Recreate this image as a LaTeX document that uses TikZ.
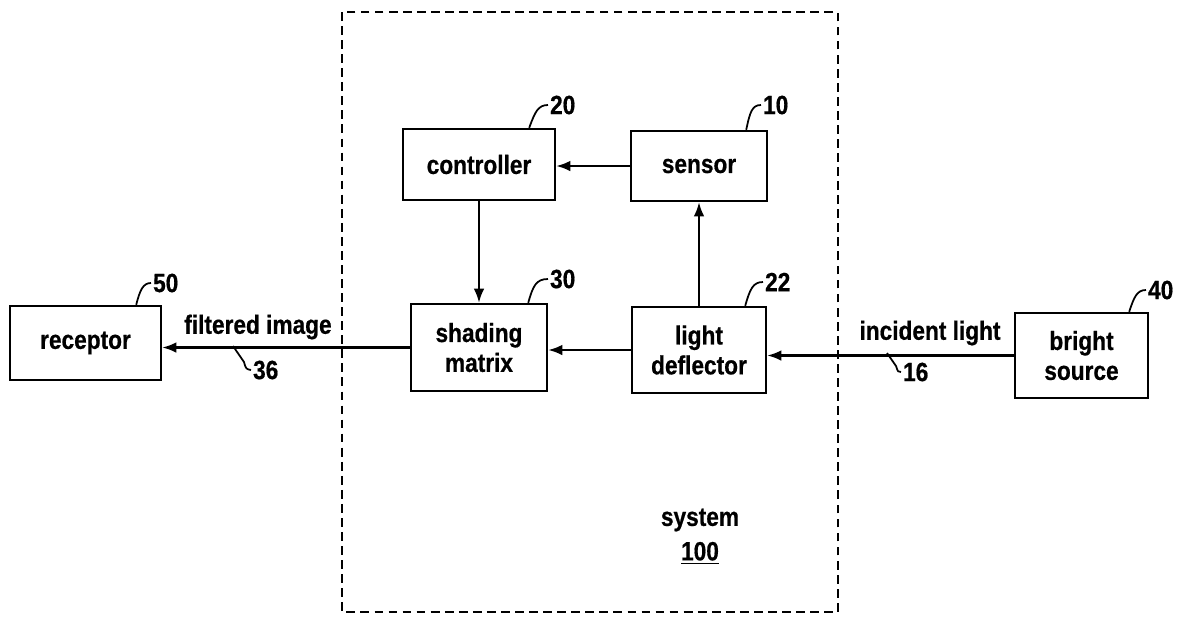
\documentclass[tikz,border=0pt]{standalone}
\usepackage{fontspec}
\setmainfont[FakeStretch=0.86, BoldFeatures={FakeBold=0.6}]{Liberation Sans}
\usetikzlibrary{arrows.meta}

\begin{document}
\begin{tikzpicture}[x=0.02cm, y=-0.02cm,
    font=\bfseries\fontsize{15}{17}\selectfont,
    block/.style={draw, line width=1.4pt, align=center, inner sep=0pt},
    flow/.style={-{Latex[length=8pt,width=6pt]}, line width=1.2pt},
    lead/.style={line width=1pt},
    refnum/.style={anchor=west, inner sep=1pt}]
% Parameters
\def\dashlw{1.5pt}

% Page frame
\useasboundingbox (0,0) rectangle (1183,620);

% System outline (dashed)
\draw[line width=\dashlw, dash pattern=on 5pt off 3pt] (342,12) rectangle (838,612);

% Blocks
\node[block, minimum width=3.02cm, minimum height=1.48cm] (receptor) at (85.5,343) {receptor};
\node[block, minimum width=3.04cm, minimum height=1.42cm] (controller) at (479,164.5) {controller};
\node[block, minimum width=2.72cm, minimum height=1.40cm] (sensor) at (699,166) {sensor};
\node[block, minimum width=2.72cm, minimum height=1.74cm] (shading) at (479,347.5) {shading\\matrix};
\node[block, minimum width=2.68cm, minimum height=1.72cm] (deflector) at (699,350) {light\\deflector};
\node[block, minimum width=2.66cm, minimum height=1.70cm] (bright) at (1081.5,355.5) {bright\\source};

% Connections
\draw[flow] (sensor.west) -- (sensor.west -| controller.east);
\draw[flow] (controller.south) -- (shading.north);
\draw[flow] (deflector.north) -- (sensor.south);
\draw[flow] (deflector.west) -- (deflector.west -| shading.east);
\draw[flow] (bright.west) -- (bright.west -| deflector.east);
\draw[flow] (shading.west) -- (shading.west -| receptor.east);

% Signal texts
\node (filtered) at (258,327) {filtered image};
\node (incident) at (930,333) {incident light};

% Reference numerals
\node[refnum] (n50) at (151,283) {50};
\node[refnum] (n20) at (548,105) {20};
\node[refnum] (n10) at (761,105) {10};
\node[refnum] (n30) at (548,279) {30};
\node[refnum] (n22) at (763,282) {22};
\node[refnum] (n40) at (1146,290) {40};
\node[refnum] (n36) at (251,370) {36};
\node[refnum] (n16) at (901,372) {16};

% Leader lines
\coordinate (l36) at (233,346);
\coordinate (l16) at (887,353);
\draw[lead] (receptor.north east) ++(-26,0) .. controls (140,290) and (143,283) .. (n50.west);
\draw[lead] (controller.north east) ++(-27,0) .. controls (535,112) and (538,105) .. (n20.west);
\draw[lead] (sensor.north east) ++(-22,0) .. controls (750,112) and (752,105) .. (n10.west);
\draw[lead] (shading.north east) ++(-20,0) .. controls (533,286) and (536,279) .. (n30.west);
\draw[lead] (deflector.north east) ++(-22,0) .. controls (750,289) and (753,282) .. (n22.west);
\draw[lead] (bright.north east) ++(-20,0) .. controls (1134,297) and (1137,290) .. (n40.west);
\draw[lead] (l36) -- (244,362) .. controls (246,369) .. (n36.west);
\draw[lead] (l16) -- (896,366) .. controls (898,372) .. (n16.west);

% System label
\node (system) at (700,520) {system};
\node (sysnum) at (700,553) {\underline{100}};
\end{tikzpicture}
\end{document}
